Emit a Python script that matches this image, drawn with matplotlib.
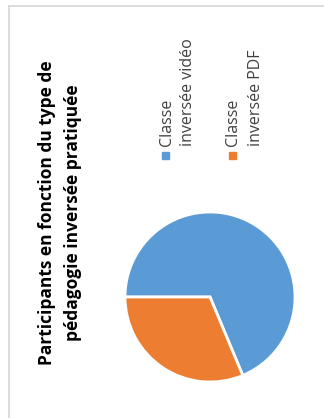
import matplotlib
matplotlib.use("Agg")
import matplotlib.pyplot as plt
from matplotlib.patches import Rectangle

title = "Participants en fonction du type de\npédagogie inversée pratiquée"
categories = ["Classe\ninversée vidéo", "Classe\ninversée PDF"]
values = [68.7, 31.3]
colors = ["#5B9BD5", "#ED7D31"]

W, H = 324, 418
fig = plt.figure(figsize=(W / 100, H / 100), dpi=100)
fig.patch.set_facecolor("white")

# border (only left and top edges visible)
fig.add_artist(plt.Line2D([8.5 / W, 8.5 / W], [0, 1 - 5.5 / H], color="#D9D9D9", lw=1.3,
                          transform=fig.transFigure))
fig.add_artist(plt.Line2D([8.5 / W, 1], [1 - 5.5 / H, 1 - 5.5 / H], color="#D9D9D9", lw=1.3,
                          transform=fig.transFigure))

# pie
cx, cy, r = 210, 297, 85
ax = fig.add_axes([(cx - r) / W, 1 - (cy + r) / H, 2 * r / W, 2 * r / H])
ax.pie(values, colors=colors, startangle=180, counterclock=False,
       wedgeprops=dict(edgecolor="white", linewidth=2))
ax.set_xlim(-1, 1)
ax.set_ylim(-1, 1)
ax.set_aspect("auto")
ax.axis("off")

# title (rotated)
fig.text(60 / W, 1 - 213 / H, title, rotation=90, ha="center", va="center",
         fontsize=12.5, fontweight="bold", family="Open Sans", color="black",
         linespacing=1.55, multialignment="center")

# legend (rotated)
leg_x = [165, 232]
for i, (lab, col) in enumerate(zip(categories, colors)):
    x = leg_x[i]
    fig.add_artist(Rectangle(((x - 3.5) / W, 1 - 158.5 / H), 7 / W, 7 / H, color=col,
                             transform=fig.transFigure))
    fig.text((x + 12.5) / W, 1 - 146 / H, lab, rotation=90, ha="center", va="bottom",
             fontsize=11.5, family="Open Sans", color="#404040", linespacing=1.5,
             multialignment="left")

fig.savefig("out.png", dpi=100)
